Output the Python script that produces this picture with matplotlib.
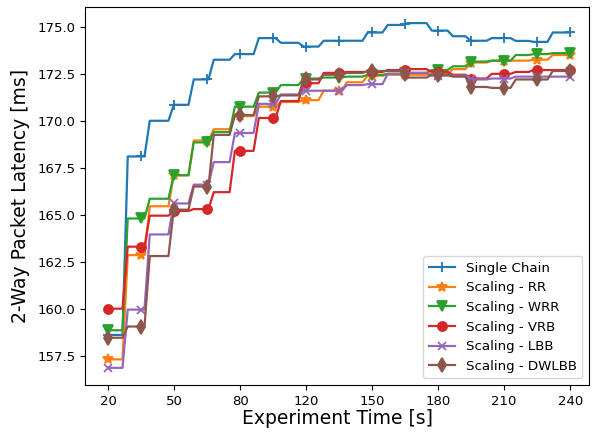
import numpy as np
import matplotlib
matplotlib.use("Agg")
import matplotlib.pyplot as plt

# x positions of tick marks and their (as printed) labels
tick_pos = [20, 50, 80, 110, 140, 170, 200, 230]
tick_labels = ["20", "50", "80", "120", "150", "180", "210", "240"]

# times at which the step series change level
change_t = [27.7, 37.7, 48.6, 57.7, 66.8, 76.4, 87.3, 97.3, 107.7, 116.8,
            127.3, 136.8, 145.9, 155.0, 165.9, 175.5, 183.6, 193.2, 204.1,
            212.3, 220.9]
t_start, t_end = 20, 230
marker_t = list(range(20, 231, 15))

single_chain = [158.6, 168.1, 170.0, 170.85, 172.2, 173.25, 173.55, 174.4, 174.15,
                173.95, 174.26, 174.26, 174.7, 175.1, 175.2, 174.8, 174.5, 174.26,
                174.4, 174.25, 174.2, 174.7]
scaling_rr = [157.3, 162.85, 165.45, 167.1, 168.95, 169.55, 170.25, 170.75, 171.0,
              171.1, 171.6, 172.05, 172.4, 172.45, 172.45, 172.5, 172.75, 173.1,
              173.2, 173.2, 173.25, 173.5]
scaling_wrr = [158.85, 164.8, 165.85, 167.1, 168.85, 169.4, 170.75, 171.5, 171.9,
               172.25, 172.3, 172.35, 172.45, 172.5, 172.55, 172.7, 172.9, 173.15,
               173.2, 173.5, 173.55, 173.6]
scaling_vrb = [160.0, 163.3, 164.95, 165.2, 165.3, 166.2, 168.4, 170.15, 171.05,
               172.0, 172.55, 172.6, 172.6, 172.7, 172.75, 172.6, 172.45, 172.25,
               172.5, 172.6, 172.7, 172.7]
scaling_lbb = [156.85, 159.95, 163.95, 165.6, 166.6, 167.8, 169.35, 170.9, 171.4,
               171.6, 171.6, 171.9, 171.95, 172.5, 172.55, 172.4, 172.4, 172.2,
               172.25, 172.35, 172.35, 172.35]
scaling_dwlbb = [158.45, 159.05, 162.8, 165.27, 166.5, 169.25, 170.3, 171.3, 171.35,
                 172.2, 172.45, 172.55, 172.65, 172.65, 172.3, 172.45, 172.35, 171.8,
                 171.75, 172.2, 172.2, 172.65]

series = [
    ("Single Chain", single_chain, "+", "#1f77b4", 7.5),
    ("Scaling - RR", scaling_rr, "*", "#ff7f0e", 7.5),
    ("Scaling - WRR", scaling_wrr, "v", "#2ca02c", 7),
    ("Scaling - VRB", scaling_vrb, "o", "#d62728", 6.5),
    ("Scaling - LBB", scaling_lbb, "x", "#9467bd", 6.2),
    ("Scaling - DWLBB", scaling_dwlbb, "d", "#8c564b", 7),
]


def build(levels, half=1.2):
    xs = [t_start]
    ys = [levels[0]]
    for i, b in enumerate(change_t):
        xs += [b - half, b + half]
        ys += [levels[i], levels[i + 1]]
    xs.append(t_end)
    ys.append(levels[-1])
    xs = np.array(xs)
    ys = np.array(ys)
    allx = np.unique(np.concatenate([xs, marker_t]))
    ally = np.interp(allx, xs, ys)
    idx = [int(np.argmin(np.abs(allx - m))) for m in marker_t]
    return allx, ally, idx


fig = plt.figure(figsize=(5.95, 4.33), dpi=100)
ax = fig.add_axes([0.143, 0.111, 0.847, 0.873])

for name, lv, mk, col, ms in series:
    x, y, idx = build(lv)
    ax.plot(x, y, color=col, marker=mk, markevery=idx, markersize=ms,
            lw=1.6, label=name, markeredgewidth=1.3)

ax.set_xlim(9.5, 238.6)
ax.set_ylim(155.94, 176.06)
ax.set_xticks(tick_pos)
ax.set_xticklabels(tick_labels)
ax.set_yticks([157.5, 160.0, 162.5, 165.0, 167.5, 170.0, 172.5, 175.0])
ax.set_yticklabels(["157.5", "160.0", "162.5", "165.0", "167.5", "170.0", "172.5", "175.0"])
ax.tick_params(labelsize=9.5)
ax.set_xlabel("Experiment Time [s]", fontsize=13.5, labelpad=1)
ax.set_ylabel("2-Way Packet Latency [ms]", fontsize=13.5, labelpad=5)
ax.legend(loc="lower right", fontsize=9.6)

fig.savefig("out.png", dpi=100)
